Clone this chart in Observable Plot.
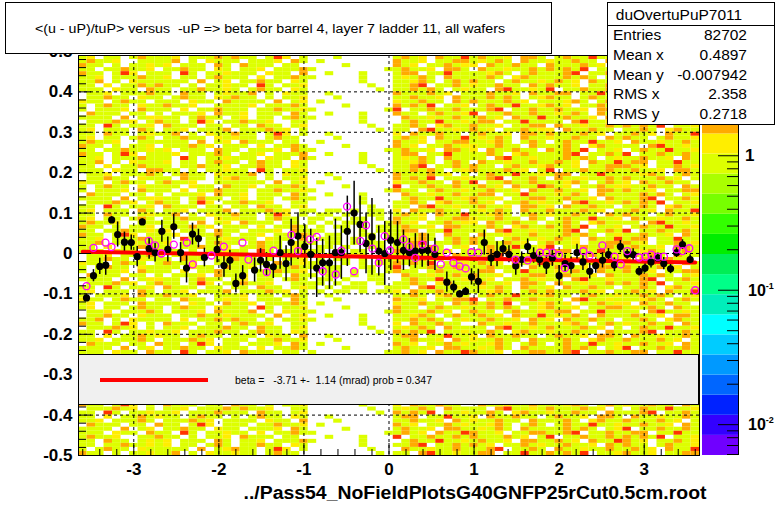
<!DOCTYPE html>
<html><head><meta charset="utf-8">
<script src="https://cdn.jsdelivr.net/npm/d3@7"></script>
<script src="https://cdn.jsdelivr.net/npm/@observablehq/plot@0.6"></script>
<style>
body{margin:0;background:#fff;}
#wrap{position:relative;width:776px;height:506px;overflow:hidden;font-family:"Liberation Sans",Arial,sans-serif;}
#wrap svg{position:absolute;top:0;}
</style></head><body><div id="wrap"></div>
<script>
// ---------------- data ----------------
const titleText = "<(u - uP)/tuP> versus  -uP => beta for barrel 4, layer 7 ladder 11, all wafers";
const captionText = "../Pass54_NoFieldPlotsG40GNFP25rCut0.5cm.root";
const statsTitle = "duOvertuPuP7011";
const statLabels = ["Entries", "Mean x", "Mean y", "RMS x", "RMS y"];
const statValues = ["82702", "0.4897", "-0.007942", "2.358", "0.2718"];
const legendText = "beta =   -3.71 +-  1.14 (mrad) prob = 0.347";

const xDomain = [-3.65, 3.65];
const yDomain = [-0.5, 0.49];
const xTicks = [-3, -2, -1, 0, 1, 2, 3];
const yLabels = [-0.5, -0.4, -0.3, -0.2, -0.1, 0, 0.1, 0.2, 0.3, 0.4, 0.5];
const yGrid = [-0.4, -0.3, -0.2, -0.1, 0, 0.1, 0.2, 0.3, 0.4];

// colour bar (log z)
const zMin = 0.0059, zMax = 5.76;
const palette = ["#7000ff","#3300ff","#0022ff","#0066ff","#0099ff","#00ccff","#00ffff","#00eebb","#00ff88","#00ee55",
                 "#00ee00","#33ff00","#77ff00","#aaff00","#ddff00","#ffee00","#ffaa00","#ff7700","#ff3300","#ff0000"];
const barMajor = [0.01, 0.1, 1];
const barMinor = [0.006,0.007,0.008,0.009,0.02,0.03,0.04,0.05,0.06,0.07,0.08,0.09,0.2,0.3,0.4,0.5,0.6,0.7,0.8,0.9,2,3,4,5];
const barLabels = [{v: 1, base: "1", exp: ""}, {v: 0.1, base: "10", exp: "-1"}, {v: 0.01, base: "10", exp: "-2"}];

// 2D histogram: x bins of 0.1 from -3.65, y bins of 0.01 from 0.50 downwards.
// Each row = 3 chunks (9 bins) for x<-0.95, 1 chunk (10 bins) for -0.95..0.05, 4 chunks (9 bins) for x>0.05
const heatX0 = -3.65, heatDX = 0.1, heatY0 = 0.5, heatDY = 0.01;
const heatLevel = {".": 0, a: 0.85, b: 1.13, c: 1.6, d: 3.2};
const chunksLeft = ["aa.caa.ab", ".aacaa.ba", "aab.aaaca", "a.aaab.ca", "caa.a.aab", ".aaacab.a", "aaa.baa.c", "ab.aa.aca", ".caaa.aa.", "aac.a.baa",
                    "aa.aacaab", "baa.acaa.", "aa.da.aab", "acaab..aa", ".aab.aaac", "aaaa.c.ab", "caa.adb.a", "a.acaa.ba", "ab.aaa.ca", "aa.b.aaca"];
const chunksMid = ["..a.......", "a.....a...", "....a.....", ".......a..", "...a......", "a........a", "......a...", ".a........", "........a.", "..a...a...",
                   "a.aa.a.aa.", ".aa.a..aa.", "aa.a.aa.a.", "a.a.aaa..a", ".a.aa.a.aa", "aa..a.a.aa", "a.aa..aa.a", ".aaa.a.a.a"];
const chunksRight = ["acaab.cca", "caa.acaab", "aacd.aaca", "b.caacaa.", "aacaab.ca", "caab.aacc", ".acaadaab", "aabca.aca", "cacad.aab", "aa.cdaaba",
                     "acab.caad", "caaacab.a", "abaca.caa", "d.aacaaca", "aaca.bcaa", "cab.aacab", "aacaca.ab", ".caabaaca", "acc.aadaa", "baacaa.ca"];
const heatRows = [
[0,5,11,0,3,8,14,1],[7,2,16,4,10,0,6,17],[13,9,3,7,5,12,19,9],[4,18,8,2,15,3,11,6],[10,1,14,5,0,17,8,13],
[16,12,6,9,18,7,2,10],[2,7,19,1,12,14,16,4],[9,15,1,6,7,1,10,18],[19,4,12,3,2,19,5,15],[6,10,17,8,16,9,13,0],
[14,0,9,0,11,4,18,7],[1,17,4,4,4,16,1,12],[11,6,15,7,19,11,7,3],[17,13,2,2,8,6,15,19],[3,19,10,5,13,2,0,11],
[8,3,18,9,1,13,12,5],[15,11,7,1,17,10,4,16],[5,16,13,6,6,18,9,2],[12,8,0,3,14,5,17,8],[18,14,5,8,9,15,3,14],
[0,9,16,0,3,0,11,10],[7,1,11,4,10,12,19,1],[13,15,8,7,5,7,6,17],[4,5,19,2,15,19,14,9],[10,18,3,5,0,3,8,6],
[16,2,14,9,18,14,2,13],[2,12,6,1,12,9,16,4],[9,7,17,6,7,17,10,18],[19,10,1,3,2,1,5,15],[6,4,12,8,16,11,13,0],
[14,17,9,0,11,6,18,7],[1,0,4,4,8,2,17,11],[11,13,15,7,19,13,7,3],[17,6,2,2,13,10,15,19],[3,19,10,5,1,4,0,5],
[8,3,18,9,17,18,12,16],[15,11,7,1,6,5,4,2],[5,16,13,6,14,15,9,8],[12,8,0,3,9,0,3,14],[18,14,5,10,3,12,11,10],
[0,9,16,11,10,7,19,1],[7,1,11,12,5,19,6,17],[13,15,8,13,15,3,14,9],[4,5,19,14,0,14,8,6],[10,18,3,15,18,9,2,13],
[16,2,14,16,12,17,16,4],[2,12,6,17,7,1,10,18],[9,7,17,10,2,11,5,15],[19,10,1,11,16,6,13,0],[6,4,12,12,11,16,18,7],
[14,17,9,13,4,2,1,12],[1,0,4,14,19,13,7,3],[11,13,15,15,8,10,15,19],[17,6,2,16,13,4,0,11],[3,19,10,17,1,18,12,5],
[8,3,18,10,17,5,4,16],[15,11,7,11,6,15,9,2],[5,16,13,12,14,0,17,8],[12,8,0,13,9,12,3,14],[18,14,5,14,3,7,11,10],
[3,13,7,0,14,6,1,16],[11,0,18,4,5,13,9,7],[18,6,2,7,19,8,15,3],[7,17,12,2,1,16,5,12],[14,3,9,5,11,1,18,9],
[1,10,15,9,7,10,12,0],[9,19,4,1,16,4,3,14],[16,8,13,6,3,17,7,19],[5,14,0,3,12,9,11,6],[12,2,17,8,8,14,19,2],
[19,11,6,0,18,3,0,17],[2,5,10,4,4,19,14,11],[8,16,3,7,15,7,6,4],[15,1,19,2,0,12,16,13],[6,12,8,5,10,5,2,18],
[13,4,14,9,13,11,13,8],[0,18,1,1,6,0,10,15],[10,7,16,6,2,15,4,1],[17,15,11,3,17,2,17,10],[4,9,5,8,9,18,8,5],
[3,0,12,0,14,6,1,16],[11,13,7,4,5,13,9,7],[18,6,18,7,19,8,15,3],[7,17,2,2,1,16,5,12],[14,3,12,5,11,1,18,9],
[1,10,9,9,7,10,12,0],[9,19,15,1,16,4,3,14],[16,8,4,6,3,17,7,19],[5,14,13,3,12,9,11,6],[12,2,0,8,8,14,19,2],
[19,11,17,0,18,3,0,17],[2,5,6,4,4,19,14,11],[8,16,10,7,15,7,6,4],[15,1,3,2,0,12,16,13],[6,12,19,5,10,5,2,18],
[13,4,8,9,13,11,13,8],[0,18,14,1,6,0,10,15],[10,7,1,6,2,15,4,1],[17,15,16,3,17,2,17,10],[4,9,11,8,9,18,8,5]
];

// profile <(u-uP)/tuP> : black points with errors
const blackX = [-3.556,-3.474,-3.40,-3.33,-3.26,-3.19,-3.11,-3.03,-2.96,-2.90,-2.82,-2.75,-2.67,-2.60,-2.53,-2.45,-2.38,-2.31,-2.24,-2.17,
  -2.02,-1.94,-1.87,-1.80,-1.72,-1.58,-1.51,-1.44,-1.36,-1.28,-1.21,-1.15,-1.07,-0.99,-0.92,-0.85,-0.78,-0.70,-0.63,-0.56,
  -0.49,-0.41,-0.34,-0.27,-0.20,-0.12,-0.05,0.02,0.10,0.17,0.24,0.31,0.39,0.46,0.54,0.68,0.76,0.83,0.90,0.97,
  1.05,1.12,1.20,1.27,1.34,1.41,1.49,1.56,1.63,1.70,1.77,1.85,1.92,2.00,2.07,2.14,2.21,2.28,2.36,2.43,
  2.51,2.58,2.65,2.72,2.80,2.87,2.94,3.01,3.08,3.16,3.23,3.31,3.38,3.45,3.54];
const blackY = [-0.110,-0.055,-0.032,-0.029,0.083,0.047,0.028,0.027,-0.008,0.078,0.012,0.002,0.055,0.010,0.066,0.002,-0.036,0.048,0.037,-0.010,
  0.010,-0.030,-0.017,-0.074,-0.055,-0.041,-0.017,-0.027,-0.033,0.002,-0.025,0.027,0.043,0.017,-0.002,-0.036,-0.023,-0.023,0.002,0.002,
  0.055,0.100,0.072,0.025,0.041,0.006,0.000,0.033,0.027,0.008,0.002,0.006,0.008,0.008,-0.002,-0.071,-0.083,-0.100,-0.094,-0.058,
  -0.069,0.027,-0.011,-0.002,0.012,-0.002,-0.031,-0.015,0.017,-0.005,-0.015,-0.029,-0.011,-0.055,-0.025,-0.030,0.002,-0.021,-0.044,-0.030,
  -0.017,-0.003,-0.028,0.017,-0.002,-0.003,-0.044,-0.036,-0.021,-0.011,-0.025,-0.038,0.002,0.022,-0.015];
const blackErr = [0.008,0.015,0.020,0.025,0.008,0.031,0.025,0.019,0.025,0.008,0.026,0.023,0.027,0.031,0.031,0.025,0.037,0.027,0.023,0.023,
  0.033,0.029,0.025,0.023,0.025,0.030,0.029,0.029,0.029,0.041,0.044,0.058,0.058,0.054,0.062,0.073,0.058,0.066,0.083,0.066,
  0.087,0.079,0.070,0.075,0.095,0.062,0.079,0.075,0.052,0.050,0.035,0.043,0.042,0.040,0.040,0.025,0.015,0.008,0.010,0.020,
  0.030,0.031,0.021,0.031,0.020,0.021,0.023,0.019,0.019,0.019,0.019,0.023,0.021,0.025,0.021,0.021,0.021,0.021,0.019,0.019,
  0.019,0.015,0.017,0.015,0.012,0.015,0.012,0.012,0.015,0.012,0.015,0.012,0.012,0.012,0.012];

// second profile: magenta open circles
const magX = [-3.556,-3.474,-3.333,-3.262,-2.824,-2.750,-2.675,-2.530,-2.377,-2.307,-2.087,-1.942,-1.723,-1.652,-1.437,-1.358,-1.147,-1.069,-0.928,-0.850,
  -0.779,-0.626,-0.559,-0.493,-0.411,-0.336,-0.270,-0.195,-0.121,-0.051,0.012,0.169,0.240,0.310,0.392,0.537,0.608,0.678,0.757,0.831,
  0.901,0.968,1.050,1.489,1.630,1.775,1.850,1.924,1.998,2.068,2.284,2.358,2.508,2.652,2.723,2.801,2.942,3.013,3.083,3.161,
  3.232,3.381,3.451,3.530,3.600];
const magY = [-0.081,0.014,0.027,0.016,0.031,0.020,0.000,0.022,0.027,-0.027,-0.005,0.017,0.027,-0.015,-0.046,0.007,0.046,0.006,0.035,0.041,
  -0.044,-0.052,0.007,0.116,-0.044,0.031,0.070,0.012,-0.023,0.043,0.008,0.035,0.017,-0.011,0.022,0.012,-0.027,0.002,-0.023,-0.032,
  -0.037,0.003,0.002,-0.015,-0.017,0.002,0.002,0.002,-0.004,-0.036,0.006,-0.005,0.020,-0.008,-0.027,0.006,-0.010,-0.008,-0.003,-0.008,
  -0.008,0.010,0.006,0.013,-0.091];

// straight-line fit: y = p0 + p1 * x  (p1 = -3.71 mrad)
const fitP0 = -0.0088, fitP1 = -0.00371, fitRange = [-3.6, 3.6];

// ---------------- build ----------------
const zEdges = d3.range(21).map(k => zMin * Math.pow(zMax / zMin, k / 20));
const thresholds = zEdges.slice(1, -1);
const colorOpts = {type: "threshold", domain: thresholds, range: palette};

const fix = (s, n) => s.padEnd(n, ".").slice(0, n);
const cells = [];
heatRows.forEach((r, i) => {
  const s = fix(chunksLeft[r[0]], 9) + fix(chunksLeft[r[1]], 9) + fix(chunksLeft[r[2]], 9) + fix(chunksMid[r[3]], 10) +
            fix(chunksRight[r[4]], 9) + fix(chunksRight[r[5]], 9) + fix(chunksRight[r[6]], 9) + fix(chunksRight[r[7]], 9);
  for (let c = 0; c < s.length; c++) {
    const v = heatLevel[s[c]];
    if (!v) continue;
    cells.push({x1: heatX0 + c * heatDX, x2: heatX0 + (c + 1) * heatDX, y2: heatY0 - i * heatDY, y1: heatY0 - (i + 1) * heatDY, v});
  }
});
const black = blackX.map((x, i) => ({x, y: blackY[i], e: blackErr[i]}));
const mag = magX.map((x, i) => ({x, y: magY[i]}));
const fitPts = fitRange.map(x => ({x, y: fitP0 + fitP1 * x}));
const xMinor = d3.range(-36, 37, 2).map(k => k / 10).filter(v => Math.abs(v - Math.round(v)) > 1e-6);
const yMajor = yGrid.concat([-0.5]);
const yMinor = d3.range(-24, 25).map(k => k / 50).filter(v => Math.abs(v * 10 - Math.round(v * 10)) > 1e-6);

const font = "'Liberation Sans', Arial, sans-serif";
const M = {left: 78, right: 77, top: 55, bottom: 51};
const fw = 776 - M.left - M.right, fh = 506 - M.top - M.bottom;

const main = Plot.plot({
  width: 776, height: 506,
  marginLeft: M.left, marginRight: M.right, marginTop: M.top, marginBottom: M.bottom,
  x: {domain: xDomain, axis: null},
  y: {domain: yDomain, axis: null},
  color: colorOpts,
  style: {fontFamily: font, background: "transparent", overflow: "visible"},
  marks: [
    Plot.rect(cells, {x1: "x1", x2: "x2", y1: "y1", y2: "y2", fill: "v", clip: true}),
    Plot.ruleX(xTicks, {x: d => d, stroke: "black", strokeWidth: 1, strokeDasharray: "3,3"}),
    Plot.ruleY(yGrid, {y: d => d, stroke: "black", strokeWidth: 1, strokeDasharray: "3,3"}),
    Plot.ruleX(black, {x: "x", y1: d => d.y - d.e, y2: d => d.y + d.e, stroke: "black", strokeWidth: 1.5}),
    Plot.line(fitPts, {x: "x", y: "y", stroke: "#ff0000", strokeWidth: 4}),
    Plot.dot(black, {x: "x", y: "y", r: 3.6, fill: "black"}),
    Plot.dot(mag, {x: "x", y: "y", r: 3.5, fill: "none", stroke: "#ff00ff", strokeWidth: 1.3}),
    Plot.frame({stroke: "black"}),
    Plot.tickX(xTicks, {x: d => d, insetTop: fh - 12, stroke: "black"}),
    Plot.tickX(xMinor, {x: d => d, insetTop: fh - 6, stroke: "black"}),
    Plot.tickY(yMajor, {y: d => d, insetRight: fw - 13, stroke: "black"}),
    Plot.tickY(yMinor, {y: d => d, insetRight: fw - 8, stroke: "black"}),
    Plot.text(xTicks, {x: d => d, frameAnchor: "bottom", dy: 7, lineAnchor: "top", text: d => String(d),
      fontSize: 17, fontWeight: "bold", fill: "black"}),
    Plot.text(yLabels, {y: d => d, frameAnchor: "left", dx: -6, textAnchor: "end", text: d => d === 0 ? "0" : d.toFixed(1),
      fontSize: 17, fontWeight: "bold", fill: "black"})
  ]
});
main.style.left = "0px";
document.getElementById("wrap").appendChild(main);

// colour bar
const bands = zEdges.slice(0, -1).map((lo, k) => ({lo, hi: zEdges[k + 1], mid: Math.sqrt(lo * zEdges[k + 1])}));
const bar = Plot.plot({
  width: 74, height: 506, marginLeft: 0, marginRight: 38, marginTop: 53, marginBottom: 51,
  x: {domain: [0, 1], axis: null},
  y: {type: "log", domain: [zMin, zMax], axis: null},
  color: colorOpts,
  style: {fontFamily: font, background: "transparent"},
  marks: [
    Plot.rect(bands, {x1: 0, x2: 1, y1: "lo", y2: "hi", fill: "mid"}),
    Plot.tickY(barMajor, {y: d => d, insetLeft: 36 - 20, stroke: "black"}),
    Plot.tickY(barMinor, {y: d => d, insetLeft: 36 - 11, stroke: "black"}),
    Plot.ruleX([1], {x: d => d, stroke: "black"})
  ]
});
bar.style.left = "702px";
document.getElementById("wrap").appendChild(bar);
const barY = bar.scale("y");

// overlay: fit legend, title box, stats box, colour-bar labels, file caption
const ns = "http://www.w3.org/2000/svg";
const ov = d3.create("svg").attr("xmlns", ns).attr("width", 776).attr("height", 506).style("left", "0px")
  .style("font-family", font);
ov.append("rect").attr("x", 78.5).attr("y", 354.5).attr("width", 620).attr("height", 50).attr("fill", "#f0f0f0").attr("stroke", "black");
ov.append("line").attr("x1", 100).attr("x2", 208).attr("y1", 380).attr("y2", 380).attr("stroke", "#ff0000").attr("stroke-width", 4);
ov.append("text").attr("x", 235).attr("y", 384).attr("font-size", 10.5).style("white-space", "pre").text(legendText);

ov.append("rect").attr("x", 5.5).attr("y", 2.5).attr("width", 546).attr("height", 51).attr("fill", "white").attr("stroke", "black");
ov.append("text").attr("x", 35).attr("y", 33).attr("font-size", 12).attr("textLength", 470).attr("lengthAdjust", "spacingAndGlyphs")
  .style("white-space", "pre").text(titleText);

ov.append("rect").attr("x", 607.5).attr("y", 2.5).attr("width", 167).attr("height", 122).attr("fill", "white").attr("stroke", "black");
ov.append("line").attr("x1", 607.5).attr("x2", 774.5).attr("y1", 25.5).attr("y2", 25.5).attr("stroke", "black");
ov.append("text").attr("x", 679).attr("y", 20).attr("font-size", 15.5).attr("text-anchor", "middle").text(statsTitle);
statLabels.forEach((lab, i) => {
  ov.append("text").attr("x", 613).attr("y", 40 + i * 19.8).attr("font-size", 15.5).text(lab);
  ov.append("text").attr("x", 747).attr("y", 40 + i * 19.8).attr("font-size", 15.5).attr("text-anchor", "end").text(statValues[i]);
});

barLabels.forEach(l => {
  const t = ov.append("text").attr("x", l.exp ? 748 : 745).attr("y", barY.apply(l.v) + 6)
    .attr("font-size", l.exp ? 16 : 17).attr("font-weight", "bold");
  t.append("tspan").text(l.base);
  if (l.exp) t.append("tspan").attr("font-size", 9).attr("dy", -7).text(l.exp);
});

ov.append("text").attr("x", 475).attr("y", 499).attr("font-size", 18).attr("font-weight", "bold").attr("text-anchor", "middle")
  .attr("textLength", 463).attr("lengthAdjust", "spacingAndGlyphs").text(captionText);
document.getElementById("wrap").appendChild(ov.node());
</script></body></html>
